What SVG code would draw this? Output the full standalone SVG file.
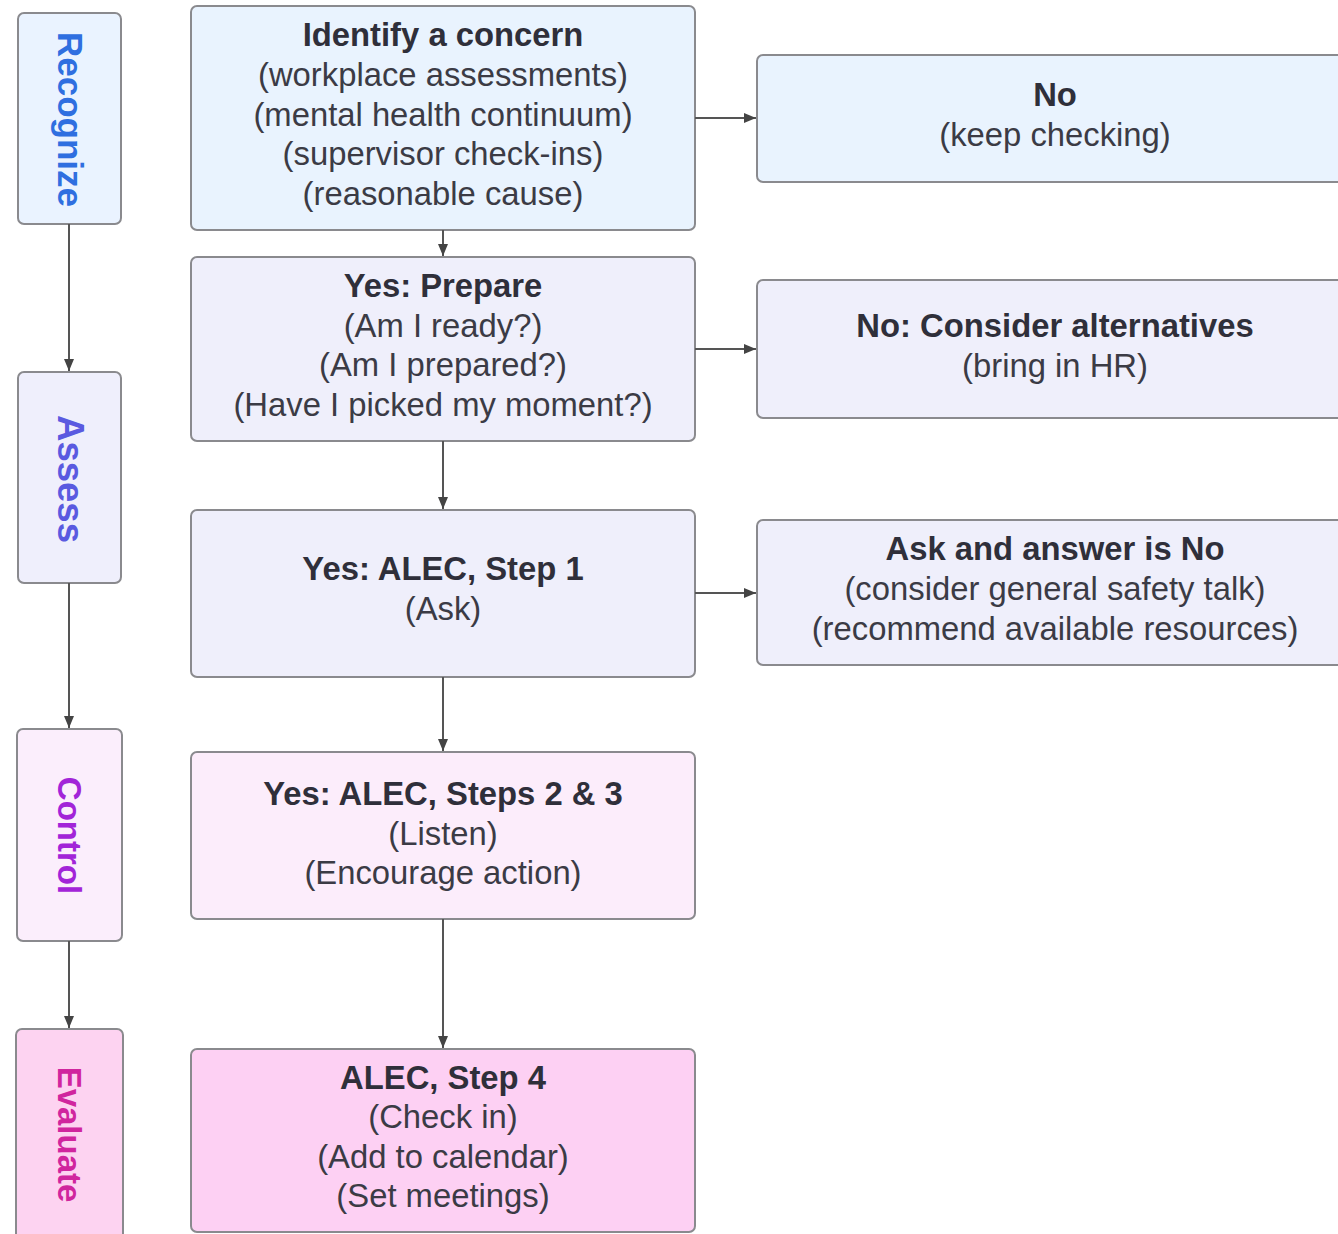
<svg xmlns="http://www.w3.org/2000/svg" width="1338" height="1234" viewBox="0 0 1338 1234">
  <defs>
    <marker id="arrow" viewBox="0 0 12 10" refX="12" refY="5" markerWidth="12" markerHeight="10" markerUnits="userSpaceOnUse" orient="auto">
      <path d="M0,0 L12,5 L0,10 Z" fill="#444"/>
    </marker>
    <style>
      .box { stroke: #8a8a8e; stroke-width: 2; }
      .txt { font-family: "Liberation Sans", Arial, sans-serif; font-size: 32.8px; fill: #3b3b45; text-anchor: middle; }
      .b { font-weight: bold; fill: #2f2f3a; }
      .lane { font-family: "Liberation Sans", Arial, sans-serif; font-size: 33px; font-weight: bold; text-anchor: middle; }
      .edge { stroke: #555; stroke-width: 2; fill: none; marker-end: url(#arrow); }
    </style>
  </defs>

  <rect width="1338" height="1234" fill="#ffffff"/>

  <!-- phase lanes on the left -->
  <g id="lane-recognize">
    <rect class="box" x="18" y="13" width="103" height="211" rx="6" fill="#eaf3ff"/>
    <text class="lane" transform="translate(70,119.5) rotate(90)" y="12" fill="#2f6fe0" style="font-size:35px">Recognize</text>
  </g>
  <g id="lane-assess">
    <rect class="box" x="18" y="372" width="103" height="211" rx="6" fill="#efeffc"/>
    <text class="lane" transform="translate(70,479) rotate(90)" y="12.5" fill="#5a5ae0" style="font-size:36.5px">Assess</text>
  </g>
  <g id="lane-control">
    <rect class="box" x="17" y="729" width="105" height="212" rx="6" fill="#fbeefc"/>
    <text class="lane" transform="translate(70,835.5) rotate(90)" y="12" fill="#a224d8">Control</text>
  </g>
  <g id="lane-evaluate">
    <rect class="box" x="16" y="1029" width="107" height="220" rx="6" fill="#fdd3f1"/>
    <text class="lane" transform="translate(70,1134.5) rotate(90)" y="12" fill="#d0259e">Evaluate</text>
  </g>

  <!-- main flow -->
  <g id="identify">
    <rect class="box" x="191" y="6" width="504" height="224" rx="6" fill="#e9f3fe"/>
    <text class="txt b" x="443" y="46">Identify a concern</text>
    <text class="txt" x="443" y="86">(workplace assessments)</text>
    <text class="txt" x="443" y="125.5">(mental health continuum)</text>
    <text class="txt" x="443" y="165">(supervisor check-ins)</text>
    <text class="txt" x="443" y="205">(reasonable cause)</text>
  </g>
  <g id="prepare">
    <rect class="box" x="191" y="257" width="504" height="184" rx="6" fill="#efeffb"/>
    <text class="txt b" x="443" y="297">Yes: Prepare</text>
    <text class="txt" x="443" y="337">(Am I ready?)</text>
    <text class="txt" x="443" y="376">(Am I prepared?)</text>
    <text class="txt" x="443" y="416">(Have I picked my moment?)</text>
  </g>
  <g id="step1">
    <rect class="box" x="191" y="510" width="504" height="167" rx="6" fill="#efeffb"/>
    <text class="txt b" x="443" y="580">Yes: ALEC, Step 1</text>
    <text class="txt" x="443" y="620">(Ask)</text>
  </g>
  <g id="step23">
    <rect class="box" x="191" y="752" width="504" height="167" rx="6" fill="#fcedfb"/>
    <text class="txt b" x="443" y="805">Yes: ALEC, Steps 2 &amp; 3</text>
    <text class="txt" x="443" y="845">(Listen)</text>
    <text class="txt" x="443" y="884">(Encourage action)</text>
  </g>
  <g id="step4">
    <rect class="box" x="191" y="1049" width="504" height="183" rx="6" fill="#fdd0f3"/>
    <text class="txt b" x="443" y="1089">ALEC, Step 4</text>
    <text class="txt" x="443" y="1128">(Check in)</text>
    <text class="txt" x="443" y="1168">(Add to calendar)</text>
    <text class="txt" x="443" y="1207">(Set meetings)</text>
  </g>

  <!-- side outcomes -->
  <g id="no-keep-checking">
    <rect class="box" x="757" y="55" width="600" height="127" rx="6" fill="#e9f3fe"/>
    <text class="txt b" x="1055" y="106">No</text>
    <text class="txt" x="1055" y="146">(keep checking)</text>
  </g>
  <g id="no-alternatives">
    <rect class="box" x="757" y="280" width="600" height="138" rx="6" fill="#efeffb"/>
    <text class="txt b" x="1055" y="337">No: Consider alternatives</text>
    <text class="txt" x="1055" y="377">(bring in HR)</text>
  </g>
  <g id="answer-no">
    <rect class="box" x="757" y="520" width="600" height="145" rx="6" fill="#efeffb"/>
    <text class="txt b" x="1055" y="560">Ask and answer is No</text>
    <text class="txt" x="1055" y="600">(consider general safety talk)</text>
    <text class="txt" x="1055" y="640">(recommend available resources)</text>
  </g>

  <!-- connectors -->
  <g id="connectors">
    <line class="edge" x1="69" y1="224" x2="69" y2="371"/>
    <line class="edge" x1="69" y1="583" x2="69" y2="728"/>
    <line class="edge" x1="69" y1="941" x2="69" y2="1028"/>
    <line class="edge" x1="443" y1="230" x2="443" y2="256"/>
    <line class="edge" x1="443" y1="441" x2="443" y2="509"/>
    <line class="edge" x1="443" y1="677" x2="443" y2="751"/>
    <line class="edge" x1="443" y1="919" x2="443" y2="1048"/>
    <line class="edge" x1="695" y1="118" x2="756" y2="118"/>
    <line class="edge" x1="695" y1="349" x2="756" y2="349"/>
    <line class="edge" x1="695" y1="593" x2="756" y2="593"/>
  </g>
</svg>
